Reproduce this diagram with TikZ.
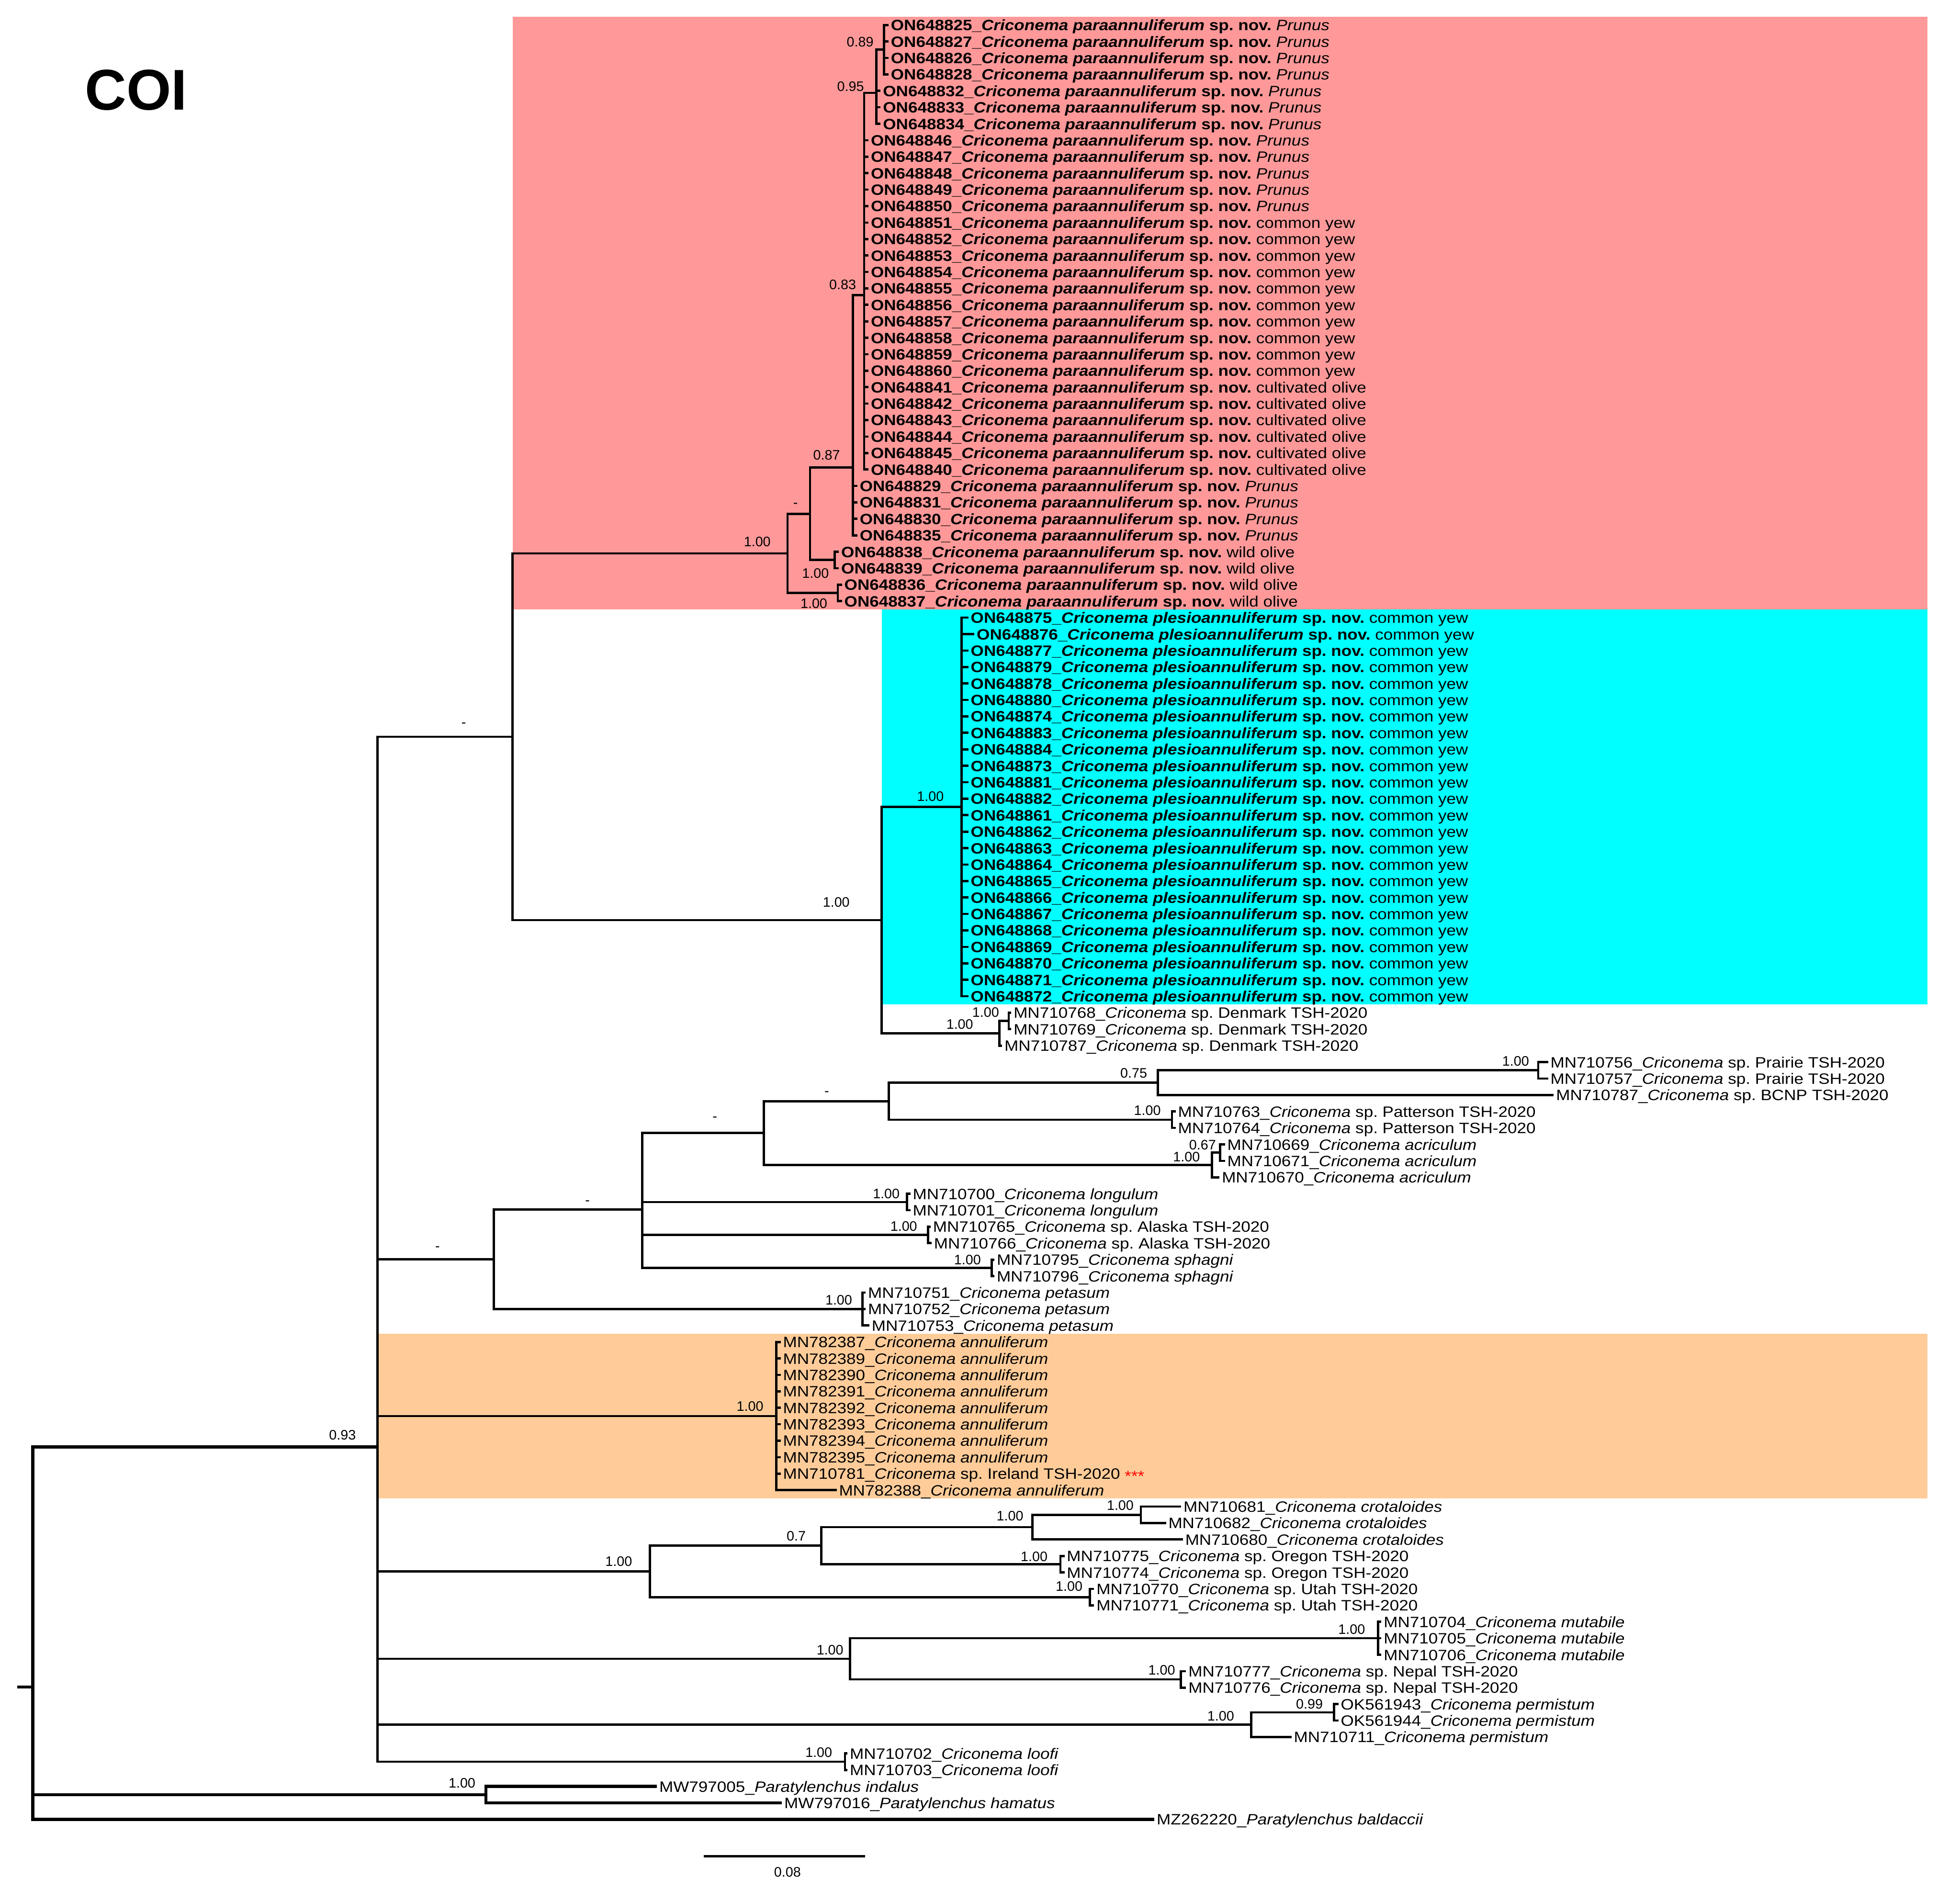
\documentclass[tikz,border=0pt]{standalone}
\usepackage{fontspec}
\setmainfont{Liberation Sans}[FakeStretch=1.12]
\newfontfamily\supfont{Liberation Sans}
\definecolor{pinkbg}{RGB}{255,153,153}
\definecolor{cyanbg}{RGB}{0,255,255}
\definecolor{orangebg}{RGB}{255,204,153}
\newcommand\tpara[2]{\textbf{#1\_\textit{Criconema paraannuliferum} sp. nov.} #2}
\newcommand\tples[1]{\textbf{#1\_\textit{Criconema plesioannuliferum} sp. nov.} common yew}
\newcommand\tcri[2]{#1\_\textit{Criconema} #2}
\newcommand\hP{\textit{Prunus}}
\newcommand\hY{common yew}
\newcommand\hC{cultivated olive}
\newcommand\hW{wild olive}
\newcommand\tipat[4]{\coordinate (t#1) at (#2,#1);\draw[branch] (#3) |- (t#1);\node[tiplab] (l#1) at (t#1) {#4};}
\begin{document}
\begin{tikzpicture}[x=1pt,y=-13.17pt,
  branch/.style={line width=1.8pt},
  rootbranch/.style={line width=2.4pt},
  tiplab/.style={anchor=base west,inner sep=0pt,xshift=1.7pt,yshift=-4.4pt,font=\frenchspacing\fontsize{12}{14}\selectfont},
  sup/.style={inner sep=0pt,font=\supfont\fontsize{11}{13}\selectfont}]
\useasboundingbox (0,-1.5186) rectangle (1568,113.288);
% coloured clade boxes
\fill[pinkbg] (410,-0.5) rectangle (1542,35.5);
\fill[cyanbg] (705.4,35.5) rectangle (1542,59.5);
\fill[orangebg] (302,79.5) rectangle (1542,89.5);
% title
\node[font=\supfont\bfseries\fontsize{46}{50}\selectfont,inner sep=0pt] (title) at (109,3.95) {COI};
% internal nodes
\coordinate (rs) at (13.8,100.96);
\coordinate (R) at (26.2,100.96);
\coordinate (n093) at (302,86.38);
\coordinate (n410) at (410,43.24);
\coordinate (npink) at (630,32.10);
\coordinate (ndash) at (648,29.69);
\coordinate (n087) at (682.4,26.883);
\coordinate (n083) at (691.3,16.415);
\coordinate (n095) at (701,4.125);
\coordinate (n089) at (707.3,1.5);
\coordinate (n838) at (667.7,32.5);
\coordinate (n836) at (670.2,34.5);
\coordinate (ncyd) at (705.4,54.375);
\coordinate (ncyan) at (769.2,47.5);
\coordinate (nden) at (799.5,61.25);
\coordinate (n768) at (807,60.5);
\coordinate (n395) at (395,74.98);
\coordinate (n514) at (513.8,71.95);
\coordinate (n611) at (611,67.31);
\coordinate (n711) at (711,65.375);
\coordinate (n075) at (926.2,64.25);
\coordinate (nprai) at (1230.6,63.5);
\coordinate (npat) at (937.6,66.5);
\coordinate (nacr) at (969.6,69.25);
\coordinate (n067) at (976,68.5);
\coordinate (nlon) at (725.5,71.5);
\coordinate (nala) at (742.5,73.5);
\coordinate (nsph) at (793.5,75.5);
\coordinate (npet) at (690,78);
\coordinate (nora) at (621.1,84.5);
\coordinate (n520) at (520,93.94);
\coordinate (n07) at (657,92.375);
\coordinate (n830) at (826,91.25);
\coordinate (ncro) at (912.7,90.5);
\coordinate (nore) at (848.3,93.5);
\coordinate (nuta) at (871.9,95.5);
\coordinate (n680) at (680,99.25);
\coordinate (nmut) at (1102.4,98);
\coordinate (nnep) at (944.7,100.5);
\coordinate (n1000) at (1000.9,103.25);
\coordinate (n099) at (1067.3,102.5);
\coordinate (nloo) at (676,105.5);
\coordinate (npara) at (388.7,107.5);
% internal branches
\draw[rootbranch] (rs) -- (R);
\draw[rootbranch] (R) |- (n093);
\draw[rootbranch] (R) |- (npara);
\foreach \c in {n410,n395,nora,n520,n680,n1000,nloo} {\draw[branch] (n093) |- (\c);}
\draw[branch] (n410) |- (npink);
\draw[branch] (n410) |- (ncyd);
\draw[branch] (npink) |- (ndash);
\draw[branch] (npink) |- (n836);
\draw[branch] (ndash) |- (n087);
\draw[branch] (ndash) |- (n838);
\draw[branch] (n087) |- (n083);
\draw[branch] (n083) |- (n095);
\draw[branch] (n095) |- (n089);
\draw[branch] (ncyd) |- (ncyan);
\draw[branch] (ncyd) |- (nden);
\draw[branch] (nden) |- (n768);
\draw[branch] (n395) |- (n514);
\draw[branch] (n395) |- (npet);
\foreach \c in {n611,nlon,nala,nsph} {\draw[branch] (n514) |- (\c);}
\draw[branch] (n611) |- (n711);
\draw[branch] (n611) |- (nacr);
\draw[branch] (n711) |- (n075);
\draw[branch] (n711) |- (npat);
\draw[branch] (n075) |- (nprai);
\draw[branch] (nacr) |- (n067);
\draw[branch] (n520) |- (n07);
\draw[branch] (n520) |- (nuta);
\draw[branch] (n07) |- (n830);
\draw[branch] (n07) |- (nore);
\draw[branch] (n830) |- (ncro);
\draw[branch] (n680) |- (nmut);
\draw[branch] (n680) |- (nnep);
\draw[branch] (n1000) |- (n099);
% pink tips
\foreach \r/\a in {0/825,1/827,2/826,3/828} {\tipat{\r}{710.8}{n089}{\tpara{ON648\a}{\hP}}}
\foreach \r/\a in {4/832,5/833,6/834} {\tipat{\r}{704.5}{n095}{\tpara{ON648\a}{\hP}}}
\foreach \r/\a/\h in {7/846/\hP,8/847/\hP,9/848/\hP,10/849/\hP,11/850/\hP,12/851/\hY,13/852/\hY,14/853/\hY,15/854/\hY,16/855/\hY,17/856/\hY,18/857/\hY,19/858/\hY,20/859/\hY,21/860/\hY,22/841/\hC,23/842/\hC,24/843/\hC,25/844/\hC,26/845/\hC,27/840/\hC} {\tipat{\r}{694.8}{n083}{\tpara{ON648\a}{\h}}}
\foreach \r/\a in {28/829,29/831,30/830,31/835} {\tipat{\r}{685.9}{n087}{\tpara{ON648\a}{\hP}}}
\foreach \r/\a in {32/838,33/839} {\tipat{\r}{671.1}{n838}{\tpara{ON648\a}{\hW}}}
\foreach \r/\a in {34/836,35/837} {\tipat{\r}{673.6}{n836}{\tpara{ON648\a}{\hW}}}
% cyan tips
\foreach \r/\a in {36/875,38/877,39/879,40/878,41/880,42/874,43/883,44/884,45/873,46/881,47/882,48/861,49/862,50/863,51/864,52/865,53/866,54/867,55/868,56/869,57/870,58/871,59/872} {\tipat{\r}{774.7}{ncyan}{\tples{ON648\a}}}
\tipat{37}{779.5}{ncyan}{\tples{ON648876}}
% Denmark
\tipat{60}{809}{n768}{\tcri{MN710768}{sp. Denmark TSH-2020}}
\tipat{61}{809}{n768}{\tcri{MN710769}{sp. Denmark TSH-2020}}
\tipat{62}{801.7}{nden}{\tcri{MN710787}{sp. Denmark TSH-2020}}
% middle clade
\tipat{63}{1238.5}{nprai}{\tcri{MN710756}{sp. Prairie TSH-2020}}
\tipat{64}{1238.5}{nprai}{\tcri{MN710757}{sp. Prairie TSH-2020}}
\tipat{65}{1243}{n075}{\tcri{MN710787}{sp. BCNP TSH-2020}}
\tipat{66}{940.5}{npat}{\tcri{MN710763}{sp. Patterson TSH-2020}}
\tipat{67}{940.5}{npat}{\tcri{MN710764}{sp. Patterson TSH-2020}}
\tipat{68}{980}{n067}{\tcri{MN710669}{\textit{acriculum}}}
\tipat{69}{980}{n067}{\tcri{MN710671}{\textit{acriculum}}}
\tipat{70}{975.6}{nacr}{\tcri{MN710670}{\textit{acriculum}}}
\tipat{71}{728.3}{nlon}{\tcri{MN710700}{\textit{longulum}}}
\tipat{72}{728.3}{nlon}{\tcri{MN710701}{\textit{longulum}}}
\tipat{73}{744.5}{nala}{\tcri{MN710765}{sp. Alaska TSH-2020}}
\tipat{74}{745.3}{nala}{\tcri{MN710766}{sp. Alaska TSH-2020}}
\tipat{75}{795.5}{nsph}{\tcri{MN710795}{\textit{sphagni}}}
\tipat{76}{795.5}{nsph}{\tcri{MN710796}{\textit{sphagni}}}
\tipat{77}{692.5}{npet}{\tcri{MN710751}{\textit{petasum}}}
\tipat{78}{692.5}{npet}{\tcri{MN710752}{\textit{petasum}}}
\tipat{79}{695.5}{npet}{\tcri{MN710753}{\textit{petasum}}}
% orange clade
\foreach \r/\a in {80/387,81/389,82/390,83/391,84/392,85/393,86/394,87/395} {\tipat{\r}{624.5}{nora}{\tcri{MN782\a}{\textit{annuliferum}}}}
\tipat{88}{624.5}{nora}{\tcri{MN710781}{sp. Ireland TSH-2020 {\color{red}\raisebox{-1.8pt}{***}}}}
\tipat{89}{669.3}{nora}{\tcri{MN782388}{\textit{annuliferum}}}
% lower clades
\tipat{90}{944.9}{ncro}{\tcri{MN710681}{\textit{crotaloides}}}
\tipat{91}{932.8}{ncro}{\tcri{MN710682}{\textit{crotaloides}}}
\tipat{92}{946.3}{n830}{\tcri{MN710680}{\textit{crotaloides}}}
\tipat{93}{851.6}{nore}{\tcri{MN710775}{sp. Oregon TSH-2020}}
\tipat{94}{851.6}{nore}{\tcri{MN710774}{sp. Oregon TSH-2020}}
\tipat{95}{875.3}{nuta}{\tcri{MN710770}{sp. Utah TSH-2020}}
\tipat{96}{875.3}{nuta}{\tcri{MN710771}{sp. Utah TSH-2020}}
\tipat{97}{1105.1}{nmut}{\tcri{MN710704}{\textit{mutabile}}}
\tipat{98}{1105.1}{nmut}{\tcri{MN710705}{\textit{mutabile}}}
\tipat{99}{1105.1}{nmut}{\tcri{MN710706}{\textit{mutabile}}}
\tipat{100}{948.8}{nnep}{\tcri{MN710777}{sp. Nepal TSH-2020}}
\tipat{101}{948.8}{nnep}{\tcri{MN710776}{sp. Nepal TSH-2020}}
\tipat{102}{1070.7}{n099}{OK561943\_\textit{Criconema permistum}}
\tipat{103}{1070.7}{n099}{OK561944\_\textit{Criconema permistum}}
\tipat{104}{1033.2}{n1000}{\tcri{MN710711}{\textit{permistum}}}
\tipat{105}{678}{nloo}{\tcri{MN710702}{\textit{loofi}}}
\tipat{106}{678}{nloo}{\tcri{MN710703}{\textit{loofi}}}
% outgroup
\tikzset{branch/.style={line width=2.4pt}}
\tipat{107}{525.5}{npara}{MW797005\_\textit{Paratylenchus indalus}}
\tipat{108}{625.5}{npara}{MW797016\_\textit{Paratylenchus hamatus}}
\tipat{109}{923.5}{R}{MZ262220\_\textit{Paratylenchus baldaccii}}
% support values
\node[sup] (s01) at (688.1,1.03) {0.89};
\node[sup] (s02) at (680.4,3.74) {0.95};
\node[sup] (s03) at (674.1,15.77) {0.83};
\node[sup] (s04) at (661.3,26.14) {0.87};
\node[sup] (s05) at (636.4,29.18) {-};
\node[sup] (s06) at (605.8,31.4) {1.00};
\node[sup] (s07) at (652.4,33.3) {1.00};
\node[sup] (s08) at (651.1,35.13) {1.00};
\node[sup] (s09) at (371,42.52) {-};
\node[sup] (s10) at (744.3,46.87) {1.00};
\node[sup] (s11) at (669,53.3) {1.00};
\node[sup] (s12) at (788.5,59.98) {1.00};
\node[sup] (s13) at (767.8,60.71) {1.00};
\node[sup] (s14) at (907,63.67) {0.75};
\node[sup] (s15) at (1212.5,62.95) {1.00};
\node[sup] (s16) at (661.4,64.92) {-};
\node[sup] (s17) at (917.9,65.95) {1.00};
\node[sup] (s18) at (571.9,66.44) {-};
\node[sup] (s19) at (962,68.03) {0.67};
\node[sup] (s20) at (949.2,68.76) {1.00};
\node[sup] (s21) at (470,71.53) {-};
\node[sup] (s22) at (709,71.0) {1.00};
\node[sup] (s23) at (723,72.97) {1.00};
\node[sup] (s24) at (774,75.02) {1.00};
\node[sup] (s25) at (350,74.34) {-};
\node[sup] (s26) at (671,77.45) {1.00};
\node[sup] (s27) at (600,83.9) {1.00};
\node[sup] (s28) at (896.2,89.94) {1.00};
\node[sup] (s29) at (808,90.58) {1.00};
\node[sup] (s30) at (637,91.8) {0.7};
\node[sup] (s31) at (827.3,93.05) {1.00};
\node[sup] (s32) at (495,93.32) {1.00};
\node[sup] (s33) at (855.3,94.84) {1.00};
\node[sup] (s34) at (1081.3,97.46) {1.00};
\node[sup] (s35) at (664,98.71) {1.00};
\node[sup] (s36) at (929.4,99.92) {1.00};
\node[sup] (s37) at (1047.5,102.0) {0.99};
\node[sup] (s38) at (976.6,102.73) {1.00};
\node[sup] (s39) at (655,104.94) {1.00};
\node[sup] (s40) at (369.6,106.81) {1.00};
\node[sup] (s41) at (274,85.65) {0.93};
% scale bar
\coordinate (sb1) at (563,111.24);
\coordinate (sb2) at (692,111.24);
\draw[line width=1.8pt] (sb1) -- (sb2);
\node[sup] (sbl) at (630,112.2) {0.08};
\end{tikzpicture}
\end{document}
